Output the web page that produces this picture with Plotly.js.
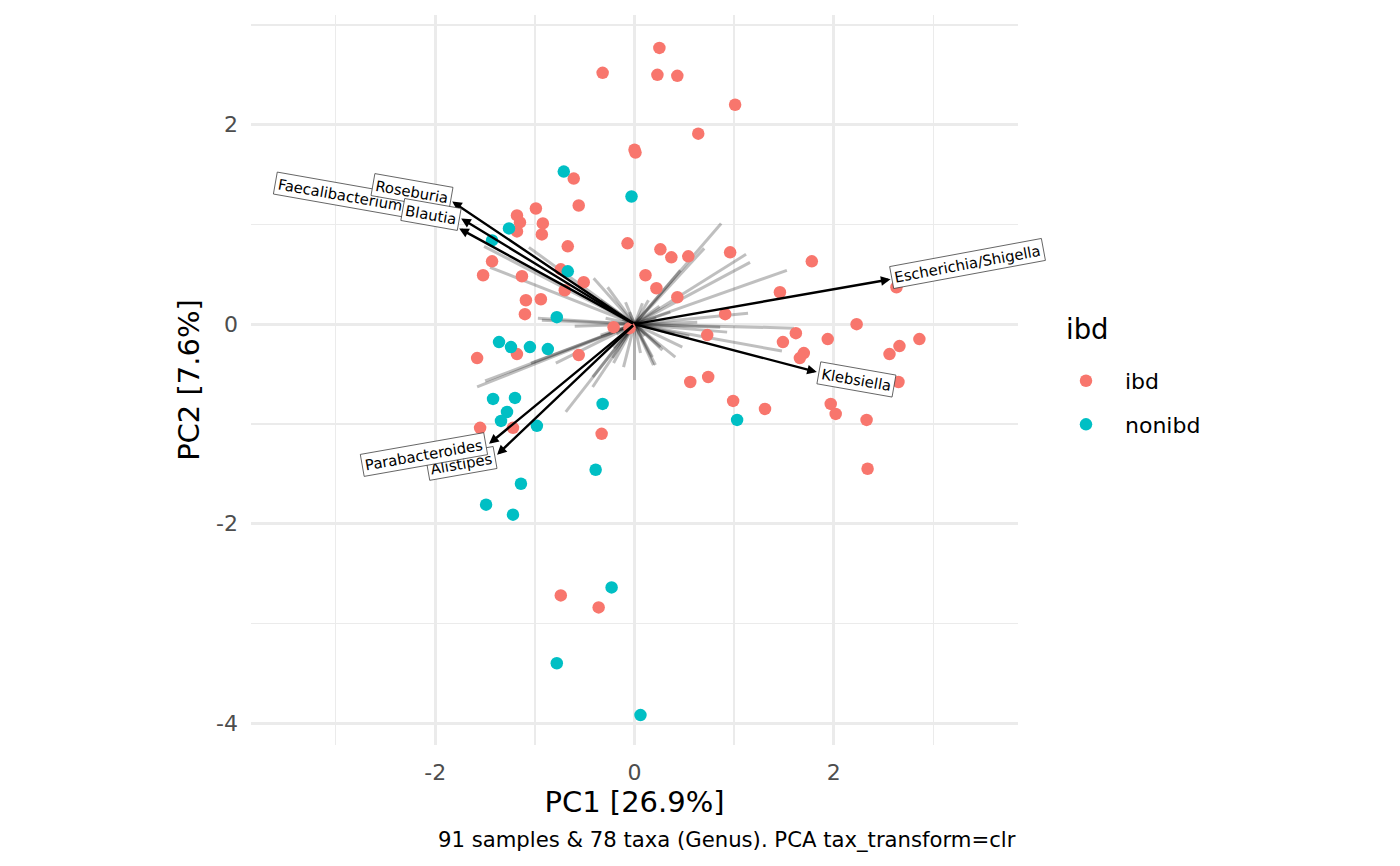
<!DOCTYPE html>
<html>
<head>
<meta charset="utf-8">
<script src="https://cdn.plot.ly/plotly-3.0.1.min.js"></script>
<style>html,body{margin:0;padding:0;background:#fff;}#chart{width:1400px;height:866px;}</style>
</head>
<body>
<div id="chart"></div>
<script>
// ---- sample scores (PC1, PC2) ----
const ibdPC1 = [0.25,-0.32,0.23,0.43,1.01,0.64,0.00,0.01,-0.61,-0.56,-0.99,-1.18,-1.15,-0.92,-1.18,-0.93,-0.67,-0.07,0.26,0.37,0.54,0.96,1.78,-1.43,-1.52,-1.13,-0.74,-0.51,-0.70,0.11,0.22,0.43,1.46,2.63,-1.09,-0.94,-1.10,0.91,-0.21,-0.05,0.73,2.23,1.62,1.49,1.94,1.70,1.66,2.86,2.66,2.56,2.65,0.56,0.74,0.99,1.31,1.97,2.02,2.33,2.34,-1.18,-1.58,-0.56,-1.55,-1.22,-0.33,-0.74,-0.36];
const ibdPC2 = [2.77,2.52,2.50,2.49,2.20,1.91,1.75,1.72,1.46,1.19,1.16,1.09,1.02,1.01,0.93,0.90,0.78,0.81,0.75,0.67,0.68,0.72,0.63,0.63,0.49,0.48,0.55,0.42,0.34,0.49,0.36,0.27,0.32,0.37,0.24,0.25,0.10,0.10,-0.03,-0.04,-0.11,0.00,-0.09,-0.18,-0.15,-0.29,-0.34,-0.15,-0.22,-0.30,-0.58,-0.58,-0.53,-0.77,-0.85,-0.80,-0.90,-0.96,-1.45,-0.30,-0.34,-0.31,-1.04,-1.04,-1.10,-2.72,-2.84];
const nonibdPC1 = [-0.71,-0.03,-1.26,-1.43,-0.67,-0.78,-1.36,-1.24,-1.05,-0.87,-1.42,-1.20,-1.28,-1.34,-0.98,-0.32,-0.39,-1.14,-1.49,-1.22,-0.23,-0.78,0.06,1.03];
const nonibdPC2 = [1.53,1.28,0.96,0.84,0.53,0.07,-0.18,-0.23,-0.23,-0.25,-0.75,-0.74,-0.88,-0.97,-1.02,-0.80,-1.46,-1.60,-1.81,-1.91,-2.64,-3.40,-3.92,-0.96];

// ---- taxa loadings (unlabelled) ----
const otherPC1 = [0.87,0.70,1.12,1.16,1.53,1.14,1.60,1.48,0.93,0.63,0.48,0.41,0.21,0.00,0.36,0.14,0.08,-0.09,-0.34,-0.41,-0.27,-1.51,-1.45,-1.06,-0.97,-0.93,-0.29,-0.34,-0.21,0.06,0.18,0.28,-0.22,-0.11,-0.21,0.19,0.26,-1.58,-1.50,-1.04,-0.79,-0.69,-0.42,-0.42,0.46,0.86,0.55,-0.12,0.10,-0.05,0.22,-0.18,0.25,-0.60,0.40];
const otherPC2 = [1.01,0.76,0.70,0.62,0.54,0.11,-0.04,-0.27,-0.08,0.02,-0.23,-0.33,-0.41,-0.56,0.12,0.24,0.21,0.22,0.24,0.46,0.37,0.78,0.57,0.77,0.06,0.04,0.06,-0.11,-0.24,-0.29,-0.33,-0.26,-0.34,-0.43,-0.39,-0.41,-0.23,-0.63,-0.57,-0.39,-0.39,-0.88,-0.63,-0.53,0.54,-0.03,-0.12,0.05,-0.12,0.12,0.06,-0.10,0.18,-0.02,-0.10];

// ---- labelled taxa loadings ----
const labTaxa = ["Escherichia/Shigella","Klebsiella","Faecalibacterium","Roseburia","Blautia","Alistipes","Parabacteroides"];
const labPC1 = [2.57,1.83,-1.76,-1.83,-1.74,-1.38,-1.46];
const labPC2 = [0.45,-0.48,0.96,1.23,1.06,-1.31,-1.20];

// label styling (pixel offsets from arrow tip, rotation)
const labStyle = {
  "Escherichia/Shigella": {dx: 77, dy: 16, rot: -10.5},
  "Klebsiella": {dx: 40, dy: -7, rot: 10},
  "Faecalibacterium": {dx: -119, dy: 34, rot: 10},
  "Roseburia": {dx: -40, dy: 10, rot: 10},
  "Blautia": {dx: -30, dy: 4, rot: 10},
  "Alistipes": {dx: -36, dy: -9, rot: -10},
  "Parabacteroides": {dx: -65, dy: -11, rot: -10}
};

const legendTitle = "ibd";
const caption = "91 samples & 78 taxa (Genus). PCA tax_transform=clr";

// build segment arrays from origin
const segX = [], segY = [];
otherPC1.forEach((v, i) => { segX.push(0, v, null); segY.push(0, otherPC2[i], null); });

const traces = [
  {x: segX, y: segY, type: 'scatter', mode: 'lines', line: {color: 'rgba(0,0,0,0.25)', width: 3}, hoverinfo: 'skip', showlegend: false},
  {x: ibdPC1, y: ibdPC2, type: 'scatter', mode: 'markers', name: 'ibd', legendgroup: 'a',
   marker: {color: '#F8766D', size: 12.5}},
  {x: nonibdPC1, y: nonibdPC2, type: 'scatter', mode: 'markers', name: 'nonibd', legendgroup: 'b',
   marker: {color: '#00BFC4', size: 12.5}}
];

const annotations = [];
// arrows
labTaxa.forEach((t, i) => {
  annotations.push({x: labPC1[i], y: labPC2[i], xref: 'x', yref: 'y', ax: 0, ay: 0, axref: 'x', ayref: 'y',
    text: '', showarrow: true, arrowhead: 2, arrowsize: 0.8, arrowwidth: 2.4, arrowcolor: '#000', standoff: 0});
});
// labels
labTaxa.forEach((t, i) => {
  const s = labStyle[t];
  annotations.push({x: labPC1[i], y: labPC2[i], xref: 'x', yref: 'y', text: t, showarrow: false,
    xshift: s.dx, yshift: s.dy, textangle: s.rot, xanchor: 'center', yanchor: 'middle',
    font: {family: 'DejaVu Sans', size: 14.8, color: '#000'}, bgcolor: '#fff', bordercolor: '#333',
    borderwidth: 0.7, borderpad: 2.5});
});
// legend title
annotations.push({x: 1064, y: 329, xref: 'paper', yref: 'paper', text: legendTitle, showarrow: false,
  xanchor: 'left', yanchor: 'middle', font: {family: 'DejaVu Sans', size: 27.5, color: '#000'}});
annotations.push({x: 1, y: -0.1301, xref: 'paper', yref: 'paper', xanchor: 'right', yanchor: 'middle',
  text: caption, showarrow: false, font: {family: 'DejaVu Sans', size: 21.2, color: '#000'}});
// convert legend title pixel position to paper coords
const L = 251, T = 15, PW = 767, PH = 730;
const lt = annotations[annotations.length - 2];
lt.x = (lt.x - L) / PW; lt.y = (T + PH - lt.y) / PH;

const grid = '#EBEBEB';
const layout = {
  width: 1400, height: 866,
  margin: {l: L, r: 1400 - L - PW, t: T, b: 866 - T - PH},
  paper_bgcolor: '#fff', plot_bgcolor: '#fff',
  font: {family: 'DejaVu Sans', color: '#000'},
  showlegend: true,
  xaxis: {range: [-3.85, 3.85], tickmode: 'array', tickvals: [-2, 0, 2], ticktext: ['-2', '0', '2'],
    showgrid: true, gridcolor: grid, gridwidth: 3, zeroline: false, showline: false, ticks: '',
    ticklabelstandoff: 12, tickfont: {size: 22, color: '#4D4D4D'},
    minor: {tickmode: 'array', tickvals: [-3, -1, 1, 3], showgrid: true, gridcolor: grid, gridwidth: 1.6, ticks: ''},
    title: {text: 'PC1 [26.9%]', font: {size: 29, color: '#000'}, standoff: 5}, automargin: false},
  yaxis: {range: [-4.22, 3.1], tickmode: 'array', tickvals: [-4, -2, 0, 2], ticktext: ['-4', '-2', '0', '2'],
    showgrid: true, gridcolor: grid, gridwidth: 3, zeroline: false, showline: false, ticks: '',
    ticklabelstandoff: 12, tickfont: {size: 22, color: '#4D4D4D'},
    minor: {tickmode: 'array', tickvals: [-3, -1, 1, 3], showgrid: true, gridcolor: grid, gridwidth: 1.6, ticks: ''},
    title: {text: 'PC2 [7.6%]', font: {size: 29, color: '#000'}, standoff: 7}, automargin: false},
  legend: {x: 1.0378, xanchor: 'left', y: 0.5275, yanchor: 'top', traceorder: 'grouped', tracegroupgap: 12,
    itemwidth: 68, font: {size: 22, color: '#000'}, bgcolor: 'rgba(0,0,0,0)'},
  annotations: annotations
};

Plotly.newPlot('chart', traces, layout, {displayModeBar: false, staticPlot: true});
</script>
</body>
</html>
